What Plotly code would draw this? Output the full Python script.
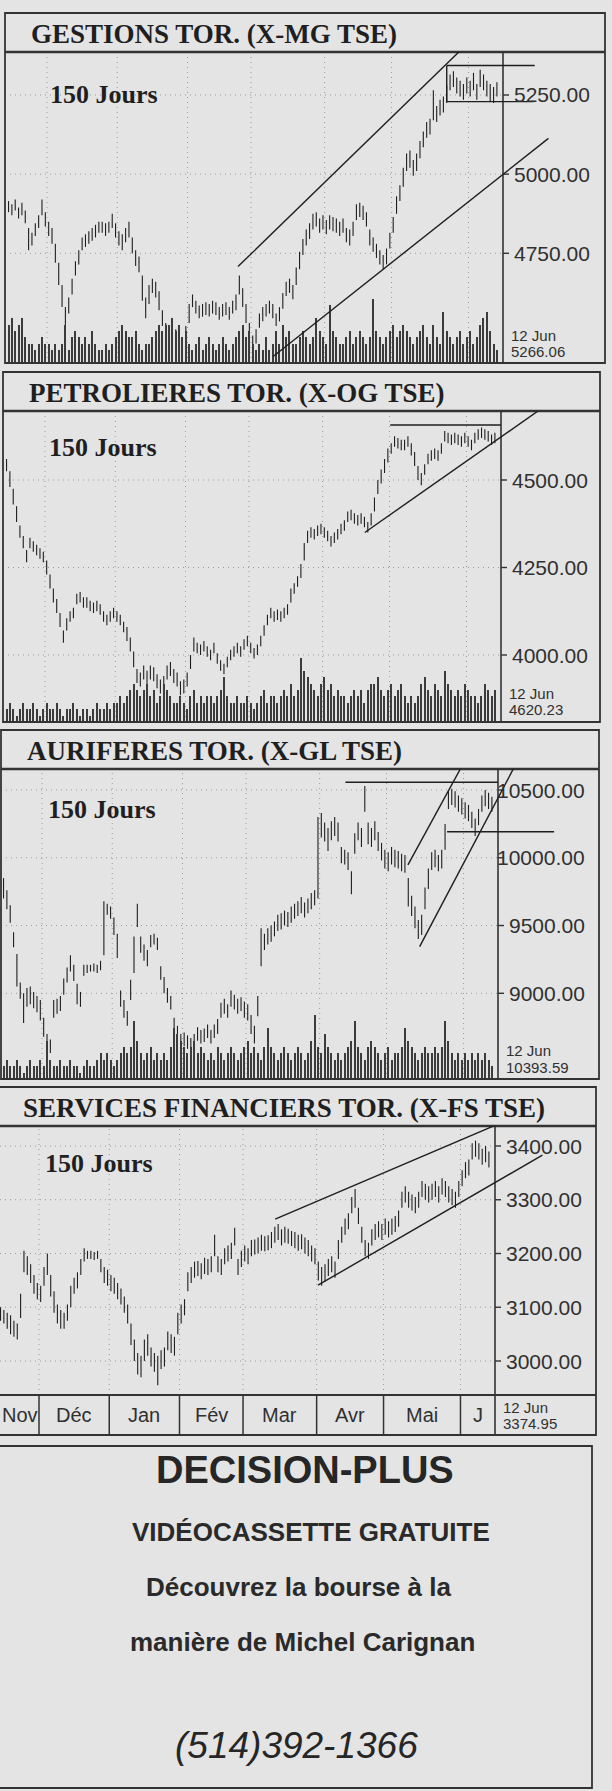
import plotly.graph_objects as go

W, H = 612, 1791

# ---------------- data ----------------
MONTHS = ["Nov", "Déc", "Jan", "Fév", "Mar", "Avr", "Mai", "J"]
MONTH_DAYS = [12, 21, 21, 19, 22, 20, 23, 9]

TITLES = ["GESTIONS TOR. (X-MG TSE)", "PETROLIERES TOR. (X-OG TSE)",
          "AURIFERES TOR. (X-GL TSE)", "SERVICES FINANCIERS TOR. (X-FS TSE)"]
SUBTITLE = "150 Jours"
LAST_DATE = "12 Jun"
LAST_VALUES = ["5266.06", "4620.23", "10393.59", "3374.95"]
TICKS = [[4750, 5000, 5250], [4000, 4250, 4500],
         [9000, 9500, 10000, 10500], [3000, 3100, 3200, 3300, 3400]]

P1_LO = [4880, 4870, 4885, 4860, 4870, 4845, 4760, 4775, 4805, 4830,
         4870, 4835, 4805, 4780, 4720, 4650, 4580, 4510, 4560, 4620,
         4680, 4715, 4760, 4770, 4780, 4790, 4800, 4815, 4815, 4805,
         4815, 4830, 4800, 4775, 4760, 4785, 4800, 4750, 4710, 4690,
         4600, 4545, 4590, 4625, 4610, 4570, 4520, 4480, 4450, 4460,
         4470, 4450, 4440, 4470, 4530, 4580, 4560, 4545, 4550, 4555,
         4550, 4560, 4555, 4540, 4550, 4555, 4540, 4560, 4570, 4620,
         4580, 4530, 4470, 4450, 4465, 4515, 4535, 4550, 4560, 4545,
         4520, 4535, 4575, 4615, 4625, 4605, 4650, 4700, 4745, 4775,
         4795, 4825, 4835, 4815, 4825, 4810, 4825, 4820, 4815, 4805,
         4815, 4785, 4775, 4805, 4855, 4865, 4855, 4835, 4775, 4755,
         4735, 4715, 4700, 4715, 4765, 4815, 4875, 4915, 4960, 5010,
         5020, 4995, 5010, 5050, 5085, 5115, 5125, 5170, 5165, 5185,
         5195, 5225, 5265, 5275, 5255, 5245, 5235, 5255, 5245, 5265,
         5235, 5275, 5265, 5245, 5230, 5225, 5245]
P1_HI = [4915, 4905, 4920, 4895, 4910, 4885, 4830, 4815, 4845, 4870,
         4920, 4880, 4850, 4830, 4780, 4720, 4650, 4580, 4610, 4670,
         4725, 4760, 4800, 4810, 4820, 4830, 4840, 4850, 4850, 4845,
         4850, 4875, 4845, 4820, 4810, 4830, 4850, 4800, 4760, 4740,
         4680, 4610, 4650, 4670, 4660, 4630, 4570, 4530, 4490, 4500,
         4510, 4490, 4480, 4520, 4590, 4620, 4600, 4585, 4590, 4595,
         4590, 4600, 4595, 4580, 4590, 4595, 4580, 4600, 4620, 4680,
         4640, 4590, 4530, 4490, 4510, 4560, 4580, 4590, 4600, 4590,
         4560, 4580, 4625, 4660, 4670, 4650, 4705, 4755, 4795, 4825,
         4845, 4875, 4880, 4860, 4870, 4855, 4870, 4865, 4860, 4850,
         4860, 4830, 4825, 4850, 4905, 4910, 4900, 4880, 4825, 4800,
         4780, 4760, 4745, 4765, 4815, 4865, 4930, 4965, 5020, 5065,
         5075, 5045, 5065, 5105, 5135, 5165, 5175, 5265, 5215, 5235,
         5245, 5280, 5315, 5325, 5305, 5295, 5285, 5305, 5295, 5320,
         5285, 5330, 5315, 5295, 5285, 5275, 5290]
P1_VOL = [6, 7, 5, 6, 7, 4, 3, 3, 2, 3,
          4, 3, 3, 2, 3, 2, 3, 6, 2, 4,
          5, 4, 3, 4, 3, 5, 3, 2, 2, 3,
          2, 3, 4, 5, 6, 5, 4, 4, 5, 3,
          2, 3, 3, 4, 5, 6, 5, 6, 6, 7,
          5, 6, 4, 5, 3, 2, 3, 4, 2, 3,
          4, 3, 2, 3, 4, 3, 2, 3, 4, 5,
          6, 4, 5, 3, 2, 3, 2, 4, 2, 3,
          5, 3, 6, 4, 5, 3, 3, 4, 5, 4,
          3, 4, 7, 5, 4, 3, 9, 5, 4, 3,
          3, 4, 5, 3, 4, 5, 4, 3, 4, 10,
          5, 4, 3, 4, 5, 6, 4, 5, 6, 5,
          4, 3, 4, 5, 6, 4, 3, 6, 4, 3,
          8, 5, 4, 3, 4, 5, 3, 4, 5, 3,
          4, 6, 7, 8, 5, 3, 2]

P2_LO = [4525, 4480, 4430, 4380, 4335, 4305, 4265, 4305, 4295, 4285,
         4275, 4265, 4230, 4190, 4150, 4120, 4080, 4035, 4070, 4095,
         4105, 4145, 4150, 4135, 4135, 4125, 4120, 4125, 4115, 4095,
         4085, 4095, 4105, 4095, 4085, 4065, 4040, 4010, 3965, 3920,
         3910, 3930, 3915, 3930, 3925, 3905, 3890, 3900, 3930, 3940,
         3920, 3910, 3885, 3890, 3910, 3960, 4010, 4005, 4000, 4010,
         3995, 3985, 4005, 3975, 3955, 3945, 3965, 3985, 3995, 4005,
         3995, 4015, 4025, 4005, 3990, 4000, 4025, 4055, 4085, 4105,
         4095, 4100, 4095, 4105, 4115, 4150, 4175, 4195, 4220, 4270,
         4320, 4335, 4330, 4340, 4345, 4335, 4325, 4310, 4320, 4330,
         4345, 4355, 4380, 4385, 4375, 4370, 4375, 4365, 4350, 4370,
         4410, 4460, 4490, 4520, 4550, 4575, 4595, 4590, 4585, 4585,
         4595, 4570, 4540, 4500, 4485, 4515, 4545, 4555, 4560, 4555,
         4575, 4610, 4605, 4600, 4605, 4600, 4595, 4605, 4595, 4585,
         4605, 4615, 4620, 4615, 4610, 4600, 4605]
P2_HI = [4560, 4525, 4475, 4425, 4370, 4340, 4300, 4335, 4325, 4315,
         4305, 4295, 4270, 4230, 4190, 4160, 4120, 4070, 4105, 4125,
         4135, 4175, 4180, 4165, 4165, 4155, 4150, 4155, 4145, 4125,
         4115, 4125, 4135, 4125, 4115, 4095, 4080, 4050, 4010, 3960,
         3950, 3970, 3955, 3970, 3965, 3945, 3930, 3940, 3970, 3980,
         3960, 3950, 3925, 3930, 3950, 4000, 4050, 4035, 4030, 4040,
         4025, 4015, 4035, 4005, 3985, 3975, 3995, 4015, 4025, 4035,
         4025, 4045, 4055, 4035, 4020, 4030, 4055, 4085, 4115, 4135,
         4125, 4130, 4125, 4135, 4145, 4190, 4205, 4225, 4260, 4320,
         4355, 4365, 4360, 4370, 4375, 4365, 4355, 4340, 4350, 4360,
         4375, 4385, 4410, 4415, 4405, 4400, 4405, 4395, 4380, 4405,
         4450, 4500, 4530, 4560, 4590, 4605, 4625, 4620, 4615, 4615,
         4625, 4605, 4580, 4540, 4520, 4545, 4575, 4585, 4590, 4585,
         4605, 4640, 4635, 4630, 4635, 4630, 4625, 4635, 4625, 4615,
         4635, 4645, 4650, 4645, 4640, 4630, 4635]
P2_VOL = [2, 3, 2, 1, 2, 3, 2, 2, 3, 2,
          1, 2, 3, 2, 2, 3, 2, 1, 2, 2,
          3, 2, 1, 2, 2, 1, 2, 3, 2, 2,
          3, 2, 3, 3, 4, 3, 4, 5, 6, 5,
          4, 5, 6, 4, 5, 3, 4, 6, 5, 4,
          3, 3, 4, 3, 2, 4, 5, 3, 4, 3,
          4, 4, 3, 4, 5, 7, 4, 3, 3, 4,
          3, 3, 4, 3, 2, 3, 4, 5, 3, 4,
          4, 3, 4, 5, 4, 6, 4, 5, 10, 8,
          7, 6, 5, 4, 6, 7, 5, 6, 4, 5,
          4, 4, 3, 4, 5, 4, 5, 3, 5, 6,
          6, 7, 5, 4, 5, 6, 4, 5, 6, 4,
          3, 4, 3, 4, 6, 7, 5, 4, 6, 5,
          4, 8, 6, 5, 4, 5, 4, 6, 5, 4,
          4, 3, 4, 6, 5, 4, 5]

P3_LO = [9700, 9620, 9520, 9340, 9050, 8960, 8780, 8900, 8920, 8890,
         8860, 8800, 8680, 8580, 8560, 8820, 8850, 8870, 8990, 9080,
         9160, 9090, 8920, 8900, 9130, 9150, 9160, 9160, 9150, 9170,
         9280, 9580, 9550, 9430, 9260, 8900, 8820, 8760, 8950, 9150,
         9490, 9300, 9240, 9200, 9340, 9360, 9320, 9100, 9000, 8930,
         8880, 8700, 8630, 8600, 8610, 8590, 8570, 8600, 8650, 8630,
         8640, 8670, 8630, 8670, 8700, 8820, 8850, 8820, 8900, 8880,
         8850, 8870, 8820, 8800, 8700, 8630, 8830, 9200, 9320, 9360,
         9380, 9420, 9460, 9470, 9500, 9490, 9520, 9550, 9570, 9590,
         9560, 9590, 9620, 9650, 9700, 10150, 10120, 10050, 10130, 10160,
         10120, 9960, 9950, 9910, 9730, 10030, 10130, 10080, 10340, 10100,
         10080, 10130, 10050, 9980, 9920, 9900, 9950, 9930, 9920, 9900,
         9890, 9640, 9570, 9480, 9400, 9430, 9620, 9770, 9910, 9930,
         9900, 9920, 10060, 10360, 10390, 10370, 10340, 10320, 10290, 10270,
         10220, 10160, 10240, 10340, 10380, 10360, 10340]
P3_HI = [9850, 9760, 9650, 9450, 9290, 9080, 9000, 9040, 9050, 9010,
         8980, 8950, 8820, 8700, 8660, 8950, 8960, 8980, 9110, 9190,
         9280, 9210, 9070, 9010, 9210, 9210, 9210, 9220, 9210, 9240,
         9680, 9660, 9640, 9560, 9440, 9020, 8950, 8870, 9100, 9420,
         9660, 9420, 9360, 9320, 9430, 9440, 9410, 9200, 9120, 9040,
         8980, 8820, 8760, 8700, 8710, 8690, 8670, 8700, 8750, 8730,
         8740, 8770, 8730, 8770, 8810, 8930, 8960, 8920, 9020, 8990,
         8960, 8970, 8940, 8920, 8840, 8760, 8980, 9480, 9440, 9480,
         9500, 9530, 9580, 9590, 9610, 9600, 9640, 9660, 9680, 9710,
         9670, 9700, 9740, 9760, 10300, 10330, 10260, 10220, 10270, 10300,
         10260, 10080, 10060, 10040, 9900, 10180, 10260, 10220, 10530, 10260,
         10220, 10270, 10190, 10110, 10060, 10040, 10080, 10060, 10050, 10030,
         10020, 9850, 9720, 9640, 9540, 9580, 9780, 9920, 10040, 10060,
         10020, 10060, 10250, 10490, 10510, 10490, 10460, 10440, 10410, 10390,
         10340, 10290, 10360, 10460, 10500, 10480, 10450]
P3_VOL = [2, 3, 2, 2, 3, 2, 1, 2, 3, 2,
          2, 3, 2, 6, 3, 2, 2, 3, 2, 2,
          3, 2, 2, 1, 2, 3, 2, 2, 3, 4,
          3, 4, 3, 2, 3, 4, 5, 4, 5, 9,
          6, 4, 3, 4, 5, 3, 4, 3, 4, 3,
          5, 8, 7, 6, 5, 4, 5, 6, 4, 5,
          4, 3, 4, 3, 5, 4, 3, 4, 5, 4,
          3, 4, 5, 6, 4, 5, 4, 3, 5, 8,
          5, 4, 3, 4, 5, 4, 3, 4, 5, 4,
          3, 4, 6, 10, 5, 4, 7, 5, 4, 3,
          4, 3, 4, 5, 6, 9, 5, 4, 3, 5,
          6, 5, 4, 3, 4, 5, 3, 4, 4, 5,
          8, 6, 5, 4, 3, 4, 5, 4, 4, 5,
          4, 5, 9, 6, 4, 3, 4, 3, 4, 3,
          4, 3, 4, 3, 4, 3, 2]

P4_LO = [3075, 3070, 3060, 3050, 3045, 3040, 3080, 3165, 3160, 3145,
         3125, 3115, 3110, 3140, 3160, 3120, 3090, 3070, 3060, 3060,
         3075, 3100, 3125, 3135, 3160, 3185, 3190, 3190, 3188, 3190,
         3165, 3145, 3140, 3130, 3125, 3115, 3105, 3090, 3070, 3030,
         3000, 2975, 2970, 3000, 3010, 2990, 2980, 2955, 2985, 2990,
         3020, 3015, 3010, 3050, 3070, 3085, 3130, 3145, 3155, 3158,
         3152, 3162, 3160, 3165, 3195, 3165, 3160, 3180, 3185, 3190,
         3215, 3160, 3175, 3185, 3180, 3195, 3198, 3200, 3205, 3204,
         3206, 3210, 3220, 3225, 3215, 3220, 3218, 3214, 3210, 3205,
         3208, 3200, 3195, 3185, 3180, 3150, 3140, 3148, 3158, 3165,
         3155, 3190, 3220, 3235, 3245, 3275, 3285, 3255, 3220, 3195,
         3190, 3215, 3225, 3230, 3225, 3235, 3230, 3235, 3240, 3250,
         3285, 3295, 3285, 3280, 3275, 3285, 3305, 3300, 3295, 3300,
         3305, 3295, 3310, 3305, 3295, 3290, 3285, 3305, 3325, 3340,
         3345, 3375, 3380, 3375, 3365, 3370, 3360]
P4_HI = [3100, 3095, 3090, 3085, 3075, 3070, 3125, 3205, 3195, 3180,
         3160, 3145, 3140, 3175, 3200, 3160, 3130, 3105, 3095, 3090,
         3105, 3140, 3155, 3165, 3190, 3210, 3205, 3205, 3203, 3205,
         3190, 3175, 3170, 3160, 3155, 3145, 3135, 3120, 3105, 3070,
         3040, 3015, 3010, 3040, 3050, 3025, 3015, 3010, 3020, 3025,
         3055, 3050, 3045, 3090, 3105, 3115, 3165, 3175, 3185, 3186,
         3182, 3192, 3190, 3195, 3235, 3195, 3190, 3210, 3215, 3220,
         3248, 3190, 3205, 3215, 3210, 3225, 3226, 3230, 3235, 3232,
         3234, 3240, 3250, 3255, 3245, 3250, 3246, 3242, 3240, 3235,
         3236, 3230, 3225, 3215, 3210, 3185, 3175, 3180, 3190, 3195,
         3185, 3225, 3250, 3265, 3275, 3305, 3320, 3285, 3250, 3225,
         3220, 3245, 3255, 3260, 3255, 3265, 3260, 3265, 3270, 3280,
         3315, 3325, 3315, 3310, 3305, 3315, 3335, 3330, 3325, 3330,
         3335, 3325, 3340, 3335, 3325, 3320, 3315, 3335, 3355, 3370,
         3375, 3405, 3410, 3405, 3395, 3400, 3390]

# trend lines: (day0, price0, day1, price1)
P1_TRENDS = [(68.6, 4708, 135.7, 5397), (79.1, 4424, 161.4, 5113),
             (131.0, 5343, 157.3, 5343), (131.0, 5229, 157.0, 5229),
             (131.0, 5229, 131.0, 5343)]
P2_TRENDS = [(114.7, 4657, 147.8, 4657), (107.1, 4350, 160.8, 4710)]
P3_TRENDS = [(102.2, 10557, 147.8, 10557), (132.6, 10192, 164.6, 10192),
             (120.9, 9947, 137.2, 10684), (124.4, 9344, 153.0, 10684)]
P4_TRENDS = [(82.1, 3264, 149.2, 3442), (94.9, 3141, 162.0, 3383)]

AD_TITLE = "DECISION-PLUS"
AD_LINES = ["VIDÉOCASSETTE GRATUITE", "Découvrez la bourse à la",
            "manière de Michel Carignan"]
AD_PHONE = "(514)392-1366"

LOWS = [P1_LO, P2_LO, P3_LO, P4_LO]
HIGHS = [P1_HI, P2_HI, P3_HI, P4_HI]
VOLS = [P1_VOL, P2_VOL, P3_VOL, None]
TRENDS = [P1_TRENDS, P2_TRENDS, P3_TRENDS, P4_TRENDS]

# ---------------- layout geometry (pixels) ----------------
PXD = 3.345  # pixels per trading day
GEOM = [
    dict(left=5, right=605, top=13, tline=52, bottom=363, pline=503, sep0=47,
         ref=((5250, 95.0), (4750, 253.3)), title_x=29, sub=(48, 95), last_y=(335, 352)),
    dict(left=3, right=600, top=372, tline=411, bottom=722, pline=501, sep0=45,
         ref=((4500, 480.0), (4000, 655.0)), title_x=27, sub=(47, 448), last_y=(693, 709)),
    dict(left=1, right=599, top=730, tline=769, bottom=1079, pline=498, sep0=42,
         ref=((10500, 790.0), (9000, 993.3)), title_x=25, sub=(46, 810), last_y=(1050, 1067)),
    dict(left=-2, right=596, top=1087, tline=1126, bottom=1395, pline=495, sep0=39,
         ref=((3400, 1146.0), (3000, 1361.0)), title_x=21, sub=(43, 1163), last_y=(1407, 1423)),
]
ROW_BOTTOM = 1435
AD_BOX = (-5, 1446, 592, 1788)

INK = "#1f1f1f"
LINE = "#333333"
GRID = "#9a9a9a"
BG = "#e4e4e4"
SERIF = "Liberation Serif, Times New Roman, serif"
SANS = "Liberation Sans, Arial, Helvetica, sans-serif"

boundaries = []
acc = 0
for d in MONTH_DAYS[:-1]:
    acc += d
    boundaries.append(acc - 0.5)


def px2idx(px, g):
    return 11.5 + (px - g["sep0"]) / PXD


def py2price(py, g):
    (p1, y1), (p2, y2) = g["ref"]
    return p1 + (py - y1) * (p2 - p1) / (y2 - y1)


def py(v):
    return 1 - v / H


fig = go.Figure()
layout = {}
shapes = []
annotations = []

for k, g in enumerate(GEOM):
    n = k + 1
    xn = "x" if n == 1 else f"x{n}"
    yn = "y" if n == 1 else f"y{n}"
    xa = "xaxis" if n == 1 else f"xaxis{n}"
    ya = "yaxis" if n == 1 else f"yaxis{n}"
    xl = max(g["left"], 0)
    xr0, xr1 = px2idx(xl, g), px2idx(g["right"], g)
    pidx = px2idx(g["pline"], g)
    layout[xa] = dict(domain=[xl / W, g["right"] / W], range=[xr0, xr1],
                      visible=False, anchor=yn, fixedrange=True)
    layout[ya] = dict(domain=[py(g["bottom"]), py(g["tline"])],
                      range=[py2price(g["bottom"], g), py2price(g["tline"], g)],
                      visible=False, anchor=xn, fixedrange=True)

    # price bars
    xs, ys = [], []
    for i, (lo, hi) in enumerate(zip(LOWS[k], HIGHS[k])):
        xs += [i, i, None]
        ys += [lo, hi, None]
    fig.add_trace(go.Scatter(x=xs, y=ys, mode="lines", line=dict(color=INK, width=1.1),
                             xaxis=xn, yaxis=yn, hoverinfo="skip", showlegend=False))

    # volume
    if VOLS[k] is not None:
        vn = f"y{n + 4}"
        va = f"yaxis{n + 4}"
        layout[va] = dict(domain=[py(g["bottom"]), py(g["bottom"] - 64)], range=[0, 10],
                          visible=False, anchor=xn, fixedrange=True)
        fig.add_trace(go.Bar(x=list(range(len(VOLS[k]))), y=VOLS[k], width=0.32,
                             marker=dict(color="#3c3c3c", line=dict(width=0)),
                             xaxis=xn, yaxis=vn, hoverinfo="skip", showlegend=False))

    box_bottom = ROW_BOTTOM if n == 4 else g["bottom"]
    # outer box
    shapes.append(dict(type="rect", xref="paper", yref="paper", x0=g["left"] / W, x1=g["right"] / W,
                       y0=py(box_bottom), y1=py(g["top"]), line=dict(color=LINE, width=1.8), layer="above"))
    # title bar line
    shapes.append(dict(type="line", xref="paper", yref="paper", x0=g["left"] / W, x1=g["right"] / W,
                       y0=py(g["tline"]), y1=py(g["tline"]), line=dict(color=LINE, width=2.6)))
    # price axis line
    shapes.append(dict(type="line", xref=xn, yref="paper", x0=pidx, x1=pidx,
                       y0=py(box_bottom), y1=py(g["tline"]), line=dict(color=LINE, width=1.6)))
    # horizontal dotted grid + ticks
    for t in TICKS[k]:
        shapes.append(dict(type="line", xref=xn, yref=yn, x0=xr0, x1=pidx, y0=t, y1=t,
                           line=dict(color=GRID, width=1, dash="1px,4px"), layer="below"))
        shapes.append(dict(type="line", xref=xn, yref=yn, x0=pidx, x1=pidx + 6 / PXD, y0=t, y1=t,
                           line=dict(color=LINE, width=1.4)))
        annotations.append(dict(xref="paper", yref=yn, x=(g["pline"] + 89) / W, y=t,
                                text=f"{t:.2f}", showarrow=False, xanchor="right", yanchor="middle",
                                font=dict(family=SANS, size=21, color="#303030")))
    # vertical dotted month grid
    for b in boundaries:
        shapes.append(dict(type="line", xref=xn, yref="paper", x0=b, x1=b,
                           y0=py(g["bottom"]), y1=py(g["tline"]),
                           line=dict(color=GRID, width=1, dash="1px,4px"), layer="below"))
    # trend lines
    for (d0, p0, d1, p1) in TRENDS[k]:
        shapes.append(dict(type="line", xref=xn, yref=yn, x0=d0, y0=p0, x1=d1, y1=p1,
                           line=dict(color=INK, width=1.4)))

    # texts
    annotations.append(dict(xref="paper", yref="paper", x=g["title_x"] / W,
                            y=py((g["top"] + g["tline"]) / 2 + 1), text=f"<b>{TITLES[k]}</b>",
                            showarrow=False, xanchor="left", yanchor="middle",
                            font=dict(family=SERIF, size=27, color=INK)))
    annotations.append(dict(xref="paper", yref="paper", x=g["sub"][0] / W, y=py(g["sub"][1]),
                            text=f"<b>{SUBTITLE}</b>", showarrow=False, xanchor="left",
                            yanchor="middle", font=dict(family=SERIF, size=26, color=INK)))
    for txt, yy in zip([LAST_DATE, LAST_VALUES[k]], g["last_y"]):
        annotations.append(dict(xref="paper", yref="paper", x=(g["pline"] + 6) / W, y=py(yy),
                                text=txt, showarrow=False, xanchor="left", yanchor="middle",
                                font=dict(family=SANS, size=15, color="#303030")))

# month row of panel 4
g4 = GEOM[3]
shapes.append(dict(type="line", xref="paper", yref="paper", x0=0, x1=g4["right"] / W,
                   y0=py(g4["bottom"]), y1=py(g4["bottom"]), line=dict(color=LINE, width=1.8)))
pidx4 = px2idx(g4["pline"], g4)
for b in boundaries:
    shapes.append(dict(type="line", xref="x4", yref="paper", x0=b, x1=b,
                       y0=py(ROW_BOTTOM), y1=py(g4["bottom"]), line=dict(color=LINE, width=1.5)))
edges = [px2idx(0, g4)] + boundaries + [pidx4]
for m, name in enumerate(MONTHS):
    annotations.append(dict(xref="x4", yref="paper", x=(edges[m] + edges[m + 1]) / 2,
                            y=py(1415), text=name, showarrow=False, xanchor="center",
                            yanchor="middle", font=dict(family=SANS, size=20, color="#303030")))

# advertisement box
shapes.append(dict(type="rect", xref="paper", yref="paper", x0=AD_BOX[0] / W, x1=AD_BOX[2] / W,
                   y0=py(AD_BOX[3]), y1=py(AD_BOX[1]), line=dict(color=LINE, width=1.8)))
annotations.append(dict(xref="paper", yref="paper", x=305 / W, y=py(1470), text=f"<b>{AD_TITLE}</b>",
                        showarrow=False, xanchor="center", yanchor="middle",
                        font=dict(family=SANS, size=38, color="#262626")))
for txt, (cx, cy) in zip(AD_LINES, [(311, 1532), (298, 1587), (302, 1642)]):
    annotations.append(dict(xref="paper", yref="paper", x=cx / W, y=py(cy), text=f"<b>{txt}</b>",
                            showarrow=False, xanchor="center", yanchor="middle",
                            font=dict(family=SANS, size=26, color="#2a2a2a")))
annotations.append(dict(xref="paper", yref="paper", x=296 / W, y=py(1745), text=f"<i>{AD_PHONE}</i>",
                        showarrow=False, xanchor="center", yanchor="middle",
                        font=dict(family=SANS, size=37, color="#262626")))

fig.update_layout(width=W, height=H, margin=dict(l=0, r=0, t=0, b=0, pad=0),
                  paper_bgcolor=BG, plot_bgcolor="rgba(0,0,0,0)", showlegend=False,
                  shapes=shapes, annotations=annotations, bargap=0, **layout)

fig.write_html("out.html", config={"displayModeBar": False},
               post_script="document.body.style.margin='0';document.body.style.overflow='hidden';")
